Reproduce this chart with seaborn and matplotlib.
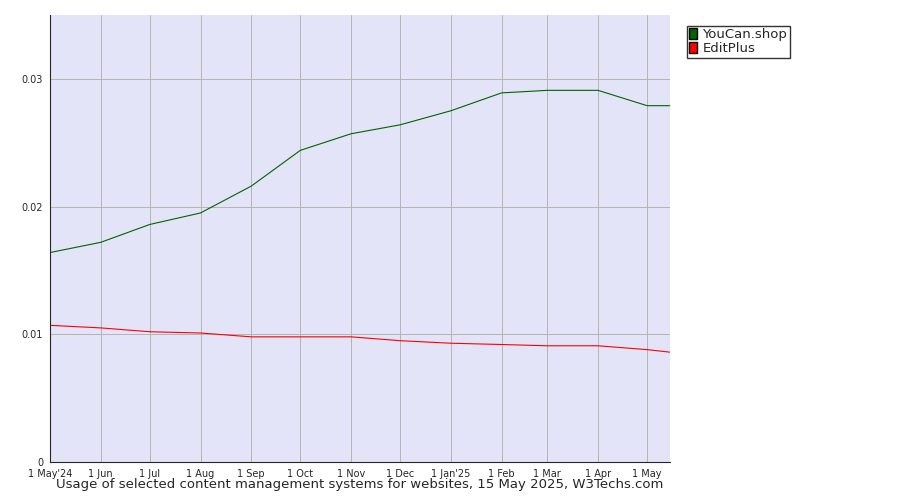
import matplotlib
matplotlib.use("Agg")
import matplotlib.pyplot as plt
import seaborn as sns
import pandas as pd

dates = ["2024-05-01","2024-06-01","2024-07-01","2024-08-01","2024-09-01","2024-10-01","2024-11-01",
         "2024-12-01","2025-01-01","2025-02-01","2025-03-01","2025-04-01","2025-05-01","2025-05-15"]
youcan = [0.0164,0.0172,0.0186,0.0195,0.0216,0.0244,0.0257,0.0264,0.0275,0.0289,0.0291,0.0291,0.0279,0.0279]
editplus = [0.0107,0.0105,0.0102,0.0101,0.0098,0.0098,0.0098,0.0095,0.0093,0.0092,0.0091,0.0091,0.0088,0.0086]
tick_labels = ["1 May'24","1 Jun","1 Jul","1 Aug","1 Sep","1 Oct","1 Nov","1 Dec","1 Jan'25","1 Feb","1 Mar","1 Apr","1 May"]

d = pd.to_datetime(dates)
days = (d - d[0]).days
df = pd.DataFrame({"day": list(days)*2, "v": youcan+editplus,
                   "s": ["YouCan.shop"]*len(days)+["EditPlus"]*len(days)})

sns.set_style("white")
plt.rcParams['font.family'] = ['DejaVu Sans']
fig = plt.figure(figsize=(9,5), dpi=100)
ax = fig.add_axes([50/900, 38/500, 620/900, 447/500])
ax.set_facecolor("#e4e4f9")
sns.lineplot(data=df, x="day", y="v", hue="s", palette={"YouCan.shop":"#006400","EditPlus":"#ff0000"},
             linewidth=0.8, ax=ax, legend=False)
ax.set_xlim(0, days[-1])
ax.set_ylim(0, 0.035)
ax.set_xticks(list(days[:13]))
ax.set_xticklabels(tick_labels, fontsize=7)
ax.set_yticks([0,0.01,0.02,0.03])
ax.set_yticklabels(["0","0.01","0.02","0.03"], fontsize=7)
ax.grid(True, color="#b4b4b4", linewidth=0.7)
ax.set_axisbelow(True)
ax.set_xlabel(""); ax.set_ylabel("")
for s in ["top","right"]:
    ax.spines[s].set_visible(False)
ax.tick_params(axis="both", length=3, pad=2)
from matplotlib.patches import Patch
h = [Patch(facecolor="#006400", edgecolor="black", label="YouCan.shop"),
     Patch(facecolor="#ff0000", edgecolor="black", label="EditPlus")]
fig.legend(handles=h, loc="upper left", bbox_to_anchor=(680/900, 1-19/500), fontsize=9.5,
           frameon=True, fancybox=False, edgecolor="black", handlelength=0.6, handleheight=0.9,
           borderpad=0.2, labelspacing=0.05, handletextpad=0.4)
fig.text(360/900, 12/500, "Usage of selected content management systems for websites, 15 May 2025, W3Techs.com",
         ha="center", fontsize=9.5)
fig.savefig("out.png", dpi=100)
